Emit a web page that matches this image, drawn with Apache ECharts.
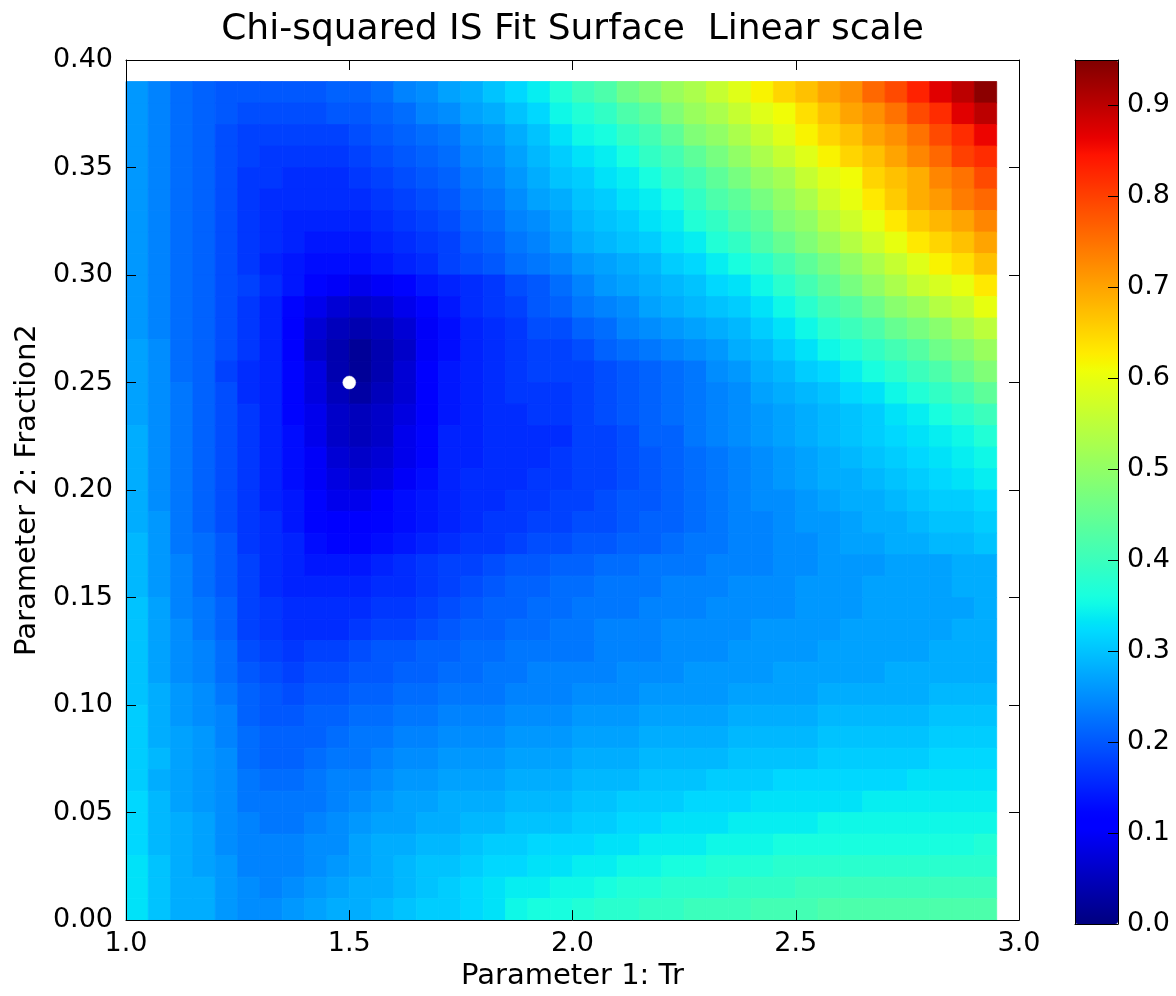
<!DOCTYPE html>
<html>
<head>
<meta charset="utf-8">
<script src="https://cdn.jsdelivr.net/npm/echarts@6/dist/echarts.min.js"></script>
<style>
  html, body { margin: 0; padding: 0; background: #ffffff; }
  #chart { width: 1176px; height: 996px; }
</style>
</head>
<body>
<div id="chart"></div>
<script>
// Cell edges of the fit surface: 40 edges give 39 cells on each parameter axis.
const trEdges = [1.00, 1.05, 1.10, 1.15, 1.20, 1.25, 1.30, 1.35, 1.40, 1.45,
                 1.50, 1.55, 1.60, 1.65, 1.70, 1.75, 1.80, 1.85, 1.90, 1.95,
                 2.00, 2.05, 2.10, 2.15, 2.20, 2.25, 2.30, 2.35, 2.40, 2.45,
                 2.50, 2.55, 2.60, 2.65, 2.70, 2.75, 2.80, 2.85, 2.90, 2.95];
const fracEdges = [0.00, 0.01, 0.02, 0.03, 0.04, 0.05, 0.06, 0.07, 0.08, 0.09,
                   0.10, 0.11, 0.12, 0.13, 0.14, 0.15, 0.16, 0.17, 0.18, 0.19,
                   0.20, 0.21, 0.22, 0.23, 0.24, 0.25, 0.26, 0.27, 0.28, 0.29,
                   0.30, 0.31, 0.32, 0.33, 0.34, 0.35, 0.36, 0.37, 0.38, 0.39];

// Chi-squared of each cell, in hundredths. First row is the top row (Fraction2 0.38-0.39),
// last row the bottom one (0.00-0.01); columns run Tr 1.00 -> 2.90.
const chiRows = [
  [26,24,22,21,20,20,20,20,20,21,21,22,24,25,27,28,30,32,34,37,40,42,46,48,51,53,56,59,62,65,67,70,72,76,79,83,87,90,94],
  [26,24,22,21,20,19,19,19,19,20,20,21,22,24,25,27,28,30,32,35,37,39,42,44,48,51,53,56,59,61,64,67,70,72,75,79,82,87,90],
  [26,24,22,21,19,18,18,18,18,18,19,20,21,22,23,25,26,28,30,33,35,36,39,41,44,48,50,53,56,59,62,65,67,70,72,75,79,82,86],
  [26,24,22,21,19,18,17,17,17,17,18,19,20,21,22,24,25,27,29,31,33,34,36,39,41,44,47,50,53,56,59,62,65,67,70,73,76,80,82],
  [26,24,22,21,19,17,17,16,16,16,17,18,19,20,21,23,24,26,28,30,31,33,34,36,39,41,44,47,50,52,56,59,61,65,67,69,73,75,79],
  [26,24,22,21,19,17,16,16,16,16,16,17,18,19,20,22,23,25,27,28,30,31,33,34,36,39,42,44,47,50,53,57,60,63,66,69,71,74,76],
  [26,24,22,21,19,17,16,15,15,15,15,16,17,18,19,21,22,24,25,27,29,30,31,33,34,37,39,42,44,48,50,54,57,60,63,66,68,70,73],
  [26,24,22,21,19,17,16,15,14,14,14,15,16,17,18,20,21,23,24,26,28,29,30,31,33,34,37,39,42,45,48,51,54,57,60,63,65,67,70],
  [26,24,22,21,19,17,15,14,13,13,13,14,15,16,18,19,20,22,23,24,26,27,28,29,31,32,34,36,38,41,44,47,50,53,56,59,62,64,67],
  [26,24,22,21,19,18,16,14,12,10, 9,10,12,14,15,16,17,19,20,22,24,26,27,28,29,30,32,33,35,38,41,44,47,50,53,56,58,60,63],
  [26,24,22,21,19,17,15,12, 9, 7, 6, 7, 9,12,14,16,17,18,20,21,23,24,25,27,28,29,30,31,33,35,38,41,43,46,49,51,54,56,60],
  [26,24,22,21,19,17,15,11, 7, 5, 4, 5, 7,10,13,15,16,17,19,19,21,22,24,25,26,27,28,29,31,33,35,38,40,42,45,47,49,52,55],
  [27,25,22,21,19,17,15,11, 6, 4, 2, 4, 6,10,13,15,16,17,18,18,19,21,22,23,24,25,26,28,29,31,33,35,37,39,41,43,46,48,51],
  [27,25,22,21,18,16,15,12, 8, 4, 2, 4, 7,11,14,15,16,17,18,18,18,19,20,21,22,23,25,26,28,29,31,32,34,36,38,40,42,45,48],
  [27,25,23,21,19,16,15,12, 8, 5, 3, 5, 7,11,14,15,16,17,17,17,18,19,20,21,22,23,24,25,27,28,29,30,32,33,35,37,39,41,44],
  [27,25,23,21,19,17,15,12, 9, 6, 5, 6, 8,11,14,15,16,16,17,17,18,19,20,21,22,23,24,25,26,27,28,29,30,31,33,34,36,38,40],
  [28,25,23,21,19,17,15,13, 9, 6, 5, 6, 9,12,15,15,16,16,16,16,18,18,19,21,21,23,24,25,26,27,28,29,30,31,32,33,34,35,37],
  [28,25,23,21,19,17,15,13,10, 7, 6, 7, 9,12,15,15,16,16,16,17,18,18,19,20,21,22,23,24,25,26,27,28,29,30,31,32,33,34,35],
  [28,25,23,21,19,17,15,13,10, 8, 7, 8,10,13,15,16,16,16,17,17,18,18,19,20,21,22,23,24,25,26,27,28,28,29,30,31,32,33,34],
  [28,25,23,21,19,17,15,14,12, 9, 9,11,13,14,15,16,16,17,17,18,18,19,20,20,21,22,23,24,25,25,26,27,28,28,29,30,31,31,32],
  [28,26,23,21,19,17,16,14,12,11,11,12,13,14,15,16,17,17,18,18,19,19,20,21,21,22,23,24,24,25,26,26,27,28,28,29,30,30,31],
  [29,26,23,22,20,17,16,15,13,12,12,13,14,15,16,17,17,18,19,19,20,20,21,21,22,23,23,24,24,25,25,26,27,27,28,28,29,29,30],
  [29,26,24,22,20,18,16,15,14,14,14,15,16,17,18,18,19,20,20,21,21,22,22,23,23,23,24,24,24,25,25,26,26,26,27,27,27,28,28],
  [29,26,24,22,20,18,16,15,15,15,15,16,16,17,18,19,20,21,21,22,22,23,23,23,24,24,24,25,25,25,26,26,26,27,27,27,27,28,28],
  [30,27,24,23,21,18,17,16,16,16,16,17,17,18,19,20,21,21,22,22,23,23,23,24,24,24,25,25,25,25,26,26,26,27,27,27,27,27,28],
  [30,27,25,23,21,18,17,16,16,16,17,18,18,19,20,21,21,22,22,23,23,24,24,24,25,25,25,25,26,26,26,26,27,27,27,27,27,28,28],
  [30,27,25,24,22,19,18,17,18,18,19,20,20,21,21,22,22,23,23,23,23,24,24,24,25,25,25,26,26,26,26,27,27,27,27,27,28,28,28],
  [30,27,25,24,22,20,19,18,19,19,20,20,21,21,22,22,23,23,24,24,24,24,25,25,25,26,26,26,26,27,27,27,27,27,28,28,28,28,28],
  [30,28,26,25,23,21,20,19,20,20,21,21,22,22,23,23,23,24,24,24,25,25,25,26,26,26,26,27,27,27,27,28,28,28,28,28,29,29,29],
  [31,28,26,25,24,21,20,20,21,21,22,22,23,23,24,24,24,25,25,25,26,26,26,27,27,27,27,28,28,28,28,29,29,29,29,29,30,30,30],
  [31,28,27,26,24,22,21,21,21,22,23,23,24,24,25,25,25,26,26,26,27,27,27,28,28,28,28,29,29,29,29,30,30,30,30,30,31,31,31],
  [31,29,27,26,25,22,21,21,22,23,23,24,25,25,26,26,26,27,27,27,28,28,28,29,29,29,29,30,30,30,30,31,31,31,31,31,32,32,32],
  [31,28,27,26,25,23,22,22,23,24,24,25,26,26,27,27,27,28,28,28,29,29,29,30,30,30,31,31,31,32,32,32,32,32,32,33,33,33,33],
  [32,29,27,26,25,23,23,23,23,24,25,26,27,27,28,28,28,29,29,29,30,30,31,31,31,32,32,32,33,33,33,33,33,34,34,34,34,34,34],
  [32,29,28,27,25,24,23,23,24,25,26,27,27,28,28,29,29,30,30,30,31,31,32,32,33,33,33,34,34,34,34,35,35,35,35,35,35,35,35],
  [32,29,28,27,25,24,24,24,25,25,27,28,28,29,29,30,31,31,32,32,32,33,33,34,34,34,35,35,35,36,36,36,36,36,36,36,36,36,37],
  [33,30,28,27,26,24,24,24,25,26,27,28,29,30,30,31,32,32,33,33,34,34,35,35,36,36,37,37,37,38,38,38,38,38,38,38,38,38,38],
  [33,30,28,28,26,25,24,25,26,27,28,28,29,30,31,32,33,34,34,35,35,36,37,37,38,38,38,39,39,39,40,40,40,40,40,40,40,40,40],
  [33,30,28,28,26,25,25,26,27,28,28,29,30,31,31,32,33,35,36,36,37,38,38,39,39,40,40,40,41,41,41,42,42,42,42,42,42,42,42]
];

// Best-fit parameters (white marker)
const bestFit = [1.5, 0.25];

// Axis ranges and tick steps
const trRange = [1.0, 3.0], trStep = 0.5;
const fracRange = [0.0, 0.40], fracStep = 0.05;
const chiRange = [0.0, 0.95], chiStep = 0.1;

const FONT = 'DejaVu Sans';

// Classic "jet" colormap (piecewise-linear channel definitions)
const jetRed   = [[0, 0], [0.35, 0], [0.66, 1], [0.89, 1], [1, 0.5]];
const jetGreen = [[0, 0], [0.125, 0], [0.375, 1], [0.64, 1], [0.91, 0], [1, 0]];
const jetBlue  = [[0, 0.5], [0.11, 1], [0.34, 1], [0.65, 0], [1, 0]];
function channel(pts, t) {
  for (let i = 1; i < pts.length; i++) {
    if (t <= pts[i][0]) {
      const [x0, y0] = pts[i - 1], [x1, y1] = pts[i];
      return y0 + (y1 - y0) * (t - x0) / (x1 - x0);
    }
  }
  return pts[pts.length - 1][1];
}
function jet(t) {
  const c = [jetRed, jetGreen, jetBlue].map(p => Math.round(255 * channel(p, t)));
  return 'rgb(' + c.join(',') + ')';
}
const jetColors = [];
for (let k = 0; k <= 100; k++) jetColors.push(jet(k / 100));

// One item per cell: [x0, y0, x1, y1, chi]
const cells = [];
const nRows = chiRows.length;
chiRows.forEach((row, k) => {
  const j = nRows - 1 - k;
  row.forEach((v, i) => {
    cells.push([trEdges[i], fracEdges[j], trEdges[i + 1], fracEdges[j + 1], v / 100]);
  });
});

function renderCell(params, api) {
  const p0 = api.coord([api.value(0), api.value(3)]);
  const p1 = api.coord([api.value(2), api.value(1)]);
  const color = api.visual('color');
  return {
    type: 'rect',
    shape: { x: p0[0], y: p0[1], width: p1[0] - p0[0], height: p1[1] - p0[1] },
    style: { fill: color, stroke: color, lineWidth: 0.8 }
  };
}

const tickFont = { fontFamily: FONT, fontSize: 27, color: '#000' };
const nameFont = { fontFamily: FONT, fontSize: 29, color: '#000' };
const blackLine = { color: '#000', width: 1 };

function frameAxis(extra) {
  return Object.assign({
    type: 'value',
    z: 10,
    axisLine: { show: true, onZero: false, lineStyle: blackLine },
    axisTick: { show: false },
    axisLabel: { show: false },
    splitLine: { show: false }
  }, extra);
}

const chart = echarts.init(document.getElementById('chart'), null, { renderer: 'canvas' });

chart.setOption({
  animation: false,
  backgroundColor: '#ffffff',
  graphic: [{
    type: 'text',
    x: 572.5,
    y: 30,
    style: {
      text: 'Chi-squared IS Fit Surface  Linear scale',
      fontFamily: FONT,
      fontSize: 36,
      fill: '#000',
      textAlign: 'center',
      textVerticalAlign: 'middle'
    }
  }],
  grid: [
    { left: 126, top: 60, width: 893, height: 864, containLabel: false },
    { left: 1075, top: 60, width: 43, height: 864, containLabel: false }
  ],
  xAxis: [
    frameAxis({
      gridIndex: 0, position: 'bottom', min: trRange[0], max: trRange[1], interval: trStep,
      axisTick: { show: true, inside: true, length: 10, lineStyle: blackLine },
      axisLabel: Object.assign({ show: true, margin: 10, formatter: v => v.toFixed(1) }, tickFont),
      name: 'Parameter 1: Tr', nameLocation: 'middle', nameGap: 39,
      nameTextStyle: nameFont
    }),
    frameAxis({
      gridIndex: 0, position: 'top', min: trRange[0], max: trRange[1], interval: trStep,
      axisTick: { show: true, inside: true, length: 10, lineStyle: blackLine }
    }),
    frameAxis({ gridIndex: 1, position: 'bottom', min: 0, max: 1 }),
    frameAxis({ gridIndex: 1, position: 'top', min: 0, max: 1 })
  ],
  yAxis: [
    frameAxis({
      gridIndex: 0, position: 'left', min: fracRange[0], max: fracRange[1], interval: fracStep,
      axisTick: { show: true, inside: true, length: 10, lineStyle: blackLine },
      axisLabel: Object.assign({ show: true, margin: 13, formatter: v => v.toFixed(2) }, tickFont),
      name: 'Parameter 2: Fraction2', nameLocation: 'middle', nameGap: 76, nameRotate: 90,
      nameTextStyle: nameFont
    }),
    frameAxis({
      gridIndex: 0, position: 'right', min: fracRange[0], max: fracRange[1], interval: fracStep,
      axisTick: { show: true, inside: true, length: 10, lineStyle: blackLine }
    }),
    frameAxis({ gridIndex: 1, position: 'left', min: chiRange[0], max: chiRange[1] }),
    frameAxis({
      gridIndex: 1, position: 'right', min: chiRange[0], max: chiRange[1], interval: chiStep,
      axisTick: { show: true, inside: true, length: 10, lineStyle: blackLine },
      axisLabel: Object.assign({ show: true, margin: 9, showMaxLabel: false, formatter: v => v.toFixed(1) }, tickFont)
    })
  ],
  visualMap: {
    type: 'continuous',
    min: chiRange[0],
    max: chiRange[1],
    dimension: 4,
    seriesIndex: 0,
    calculable: false,
    hoverLink: false,
    orient: 'vertical',
    left: 1075,
    top: 60,
    itemWidth: 43,
    itemHeight: 864,
    padding: 0,
    inRange: { color: jetColors },
    z: 5
  },
  series: [
    {
      type: 'custom',
      name: 'chi-squared',
      xAxisIndex: 0,
      yAxisIndex: 0,
      renderItem: renderCell,
      encode: { x: [0, 2], y: [1, 3] },
      data: cells,
      silent: true,
      z: 2
    },
    {
      type: 'scatter',
      name: 'best fit',
      xAxisIndex: 0,
      yAxisIndex: 0,
      data: [bestFit],
      symbol: 'circle',
      symbolSize: 13,
      itemStyle: { color: '#ffffff', borderColor: '#e8e8e8', borderWidth: 0.5, opacity: 1 },
      silent: true,
      z: 5
    }
  ]
});
</script>
</body>
</html>
